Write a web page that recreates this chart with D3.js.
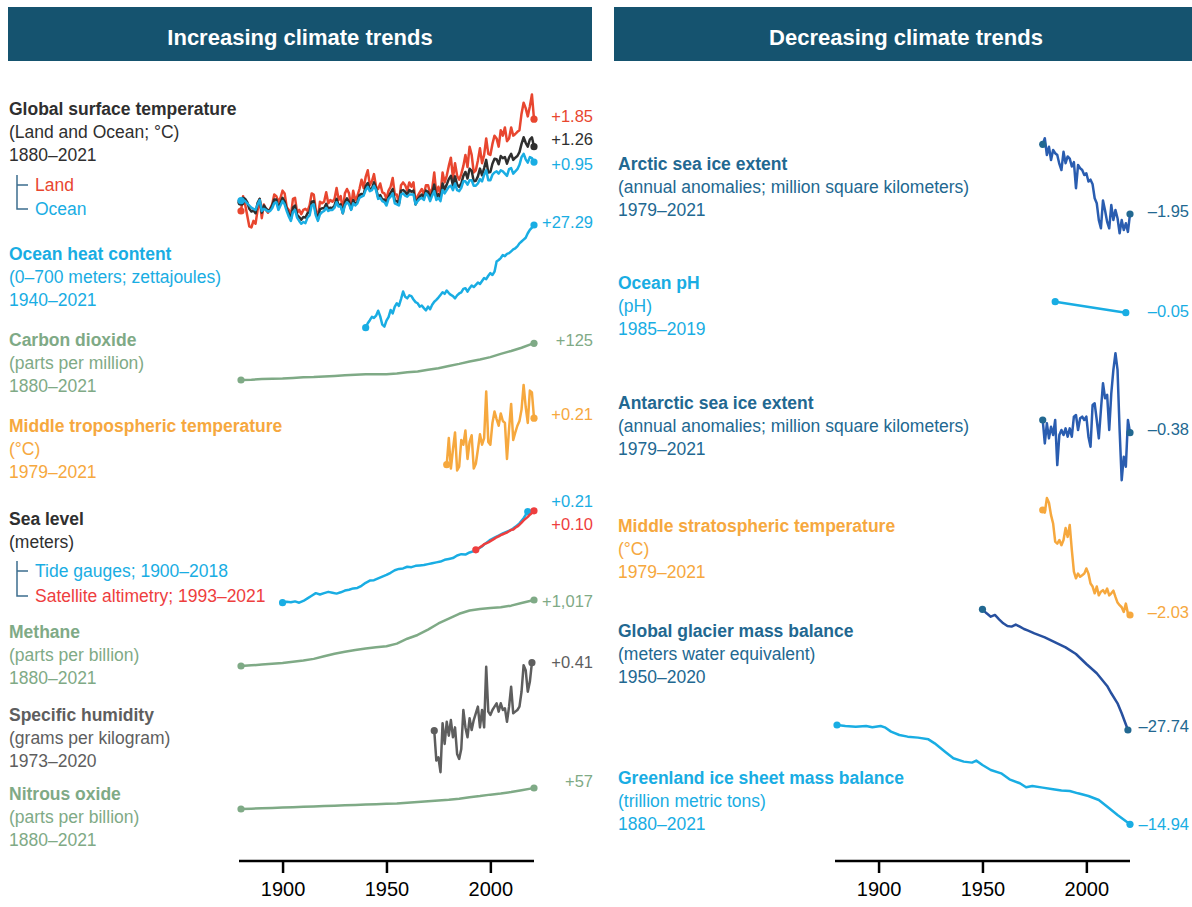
<!DOCTYPE html>
<meta charset="utf-8">
<style>
    body { margin: 0; background: #fff; }
    svg { display: block; font-family: "Liberation Sans", Arial, Helvetica, sans-serif; }
    .header text { fill: #fff; font-weight: bold; font-size: 22px; text-anchor: middle; }
    .label { font-size: 17.5px; }
    .label .head { font-weight: bold; }
    .value { font-size: 16.5px; }
    .series { fill: none; stroke-width: 2.5px; stroke-linejoin: round; stroke-linecap: round; }
    .bracket { fill: none; stroke: #3c6e8f; stroke-width: 1.5px; }
    .axis path, .axis line { stroke: #000; stroke-width: 2.5px; }
    .axis text { font-size: 20px; fill: #000; font-family: "Liberation Sans", Arial, sans-serif; }
</style>
<svg width="1192" height="907"></svg>
<script src="https://cdn.jsdelivr.net/npm/d3@7"></script>
<script>

    // ---- data ----
    const tempYears = d3.range(1880, 2022);
    const globalTemp = [
        -0.16,-0.08,-0.10,-0.16,-0.28,-0.33,-0.31,-0.36,-0.17,-0.10,
        -0.35,-0.22,-0.27,-0.31,-0.30,-0.22,-0.11,-0.11,-0.26,-0.17,
        -0.08,-0.15,-0.28,-0.37,-0.47,-0.26,-0.22,-0.39,-0.43,-0.48,
        -0.43,-0.44,-0.36,-0.34,-0.15,-0.14,-0.36,-0.46,-0.29,-0.27,
        -0.27,-0.19,-0.28,-0.26,-0.27,-0.22,-0.10,-0.22,-0.20,-0.36,
        -0.16,-0.09,-0.16,-0.29,-0.12,-0.20,-0.15,-0.03,-0.01,-0.02,
        0.13,0.19,0.07,0.09,0.20,0.09,-0.07,-0.03,-0.11,-0.11,
        -0.17,-0.07,0.01,0.08,-0.13,-0.14,-0.19,0.05,0.06,0.03,
        -0.03,0.06,0.03,0.05,-0.20,-0.11,-0.06,-0.02,-0.08,0.05,
        0.03,-0.08,0.01,0.16,-0.07,-0.01,-0.10,0.18,0.07,0.16,
        0.26,0.32,0.14,0.31,0.16,0.12,0.18,0.32,0.39,0.27,
        0.45,0.41,0.22,0.23,0.31,0.45,0.33,0.46,0.61,0.38,
        0.39,0.54,0.63,0.62,0.53,0.68,0.64,0.66,0.54,0.65,
        0.72,0.61,0.65,0.68,0.75,0.90,1.02,0.92,0.85,0.98,
        1.02,0.85
    ];
    const landTemp = [
        -0.32,-0.05,-0.20,-0.40,-0.60,-0.62,-0.50,-0.55,-0.30,-0.10,
        -0.45,-0.20,-0.30,-0.35,-0.28,-0.20,-0.02,-0.05,-0.15,-0.08,
        0.05,0.00,-0.25,-0.30,-0.42,-0.10,-0.08,-0.35,-0.30,-0.38,
        -0.30,-0.28,-0.32,-0.22,0.00,-0.02,-0.30,-0.45,-0.15,-0.18,
        -0.15,0.02,-0.18,-0.12,-0.15,-0.10,0.10,-0.12,-0.05,-0.32,
        0.00,0.08,0.00,-0.25,0.05,-0.12,-0.05,0.08,0.25,0.10,
        0.30,0.42,0.15,0.22,0.35,0.12,0.08,0.18,0.02,0.00,
        -0.10,0.05,0.12,0.28,-0.02,-0.02,-0.18,0.15,0.20,0.15,
        0.05,0.20,0.12,0.20,-0.18,-0.05,0.02,0.08,-0.02,0.15,
        0.15,0.00,0.08,0.38,0.00,0.12,-0.02,0.38,0.20,0.32,
        0.50,0.65,0.28,0.55,0.32,0.25,0.35,0.50,0.70,0.48,
        0.85,0.70,0.38,0.42,0.60,0.82,0.55,0.70,1.00,0.72,
        0.70,0.90,1.05,1.00,0.85,1.15,1.05,1.20,0.95,1.00,
        1.20,1.05,1.08,1.12,1.15,1.45,1.65,1.55,1.40,1.58,
        1.80,1.35
    ];
    const oceanTemp = [
        -0.13,-0.12,-0.14,-0.18,-0.22,-0.26,-0.28,-0.30,-0.20,-0.12,
        -0.32,-0.28,-0.30,-0.33,-0.32,-0.27,-0.18,-0.16,-0.30,-0.22,
        -0.14,-0.20,-0.32,-0.42,-0.50,-0.34,-0.30,-0.44,-0.50,-0.55,
        -0.52,-0.54,-0.44,-0.40,-0.22,-0.20,-0.40,-0.50,-0.38,-0.34,
        -0.32,-0.26,-0.32,-0.30,-0.30,-0.26,-0.16,-0.24,-0.24,-0.36,
        -0.22,-0.16,-0.20,-0.30,-0.18,-0.22,-0.18,-0.08,-0.06,-0.04,
        0.06,0.12,0.04,0.06,0.14,0.06,-0.10,-0.08,-0.14,-0.16,
        -0.22,-0.10,-0.06,0.00,-0.18,-0.20,-0.22,-0.02,0.00,-0.04,
        -0.06,-0.02,-0.02,-0.02,-0.20,-0.14,-0.10,-0.08,-0.12,0.00,
        -0.04,-0.14,-0.04,0.04,-0.12,-0.08,-0.14,0.06,0.00,0.06,
        0.12,0.14,0.06,0.18,0.06,0.04,0.10,0.22,0.22,0.16,
        0.24,0.24,0.14,0.14,0.18,0.26,0.22,0.34,0.42,0.24,
        0.24,0.34,0.38,0.40,0.36,0.42,0.40,0.36,0.32,0.44,
        0.46,0.36,0.40,0.44,0.52,0.66,0.72,0.62,0.56,0.66,
        0.64,0.57
    ];

    const ohcYears = d3.range(1940, 2022);
    const ohcValues = [
        0.0,1.2,2.0,2.9,2.6,3.2,4.5,3.0,0.8,0.3,
        1.9,2.8,4.7,3.8,5.6,6.5,5.8,7.6,9.6,8.2,
        7.8,8.6,8.4,7.5,6.8,6.5,5.6,5.9,5.2,4.6,
        5.6,4.9,6.1,6.9,7.4,8.0,8.7,9.4,9.0,9.9,
        9.2,8.7,8.4,7.8,8.6,9.1,9.4,10.3,10.5,9.6,
        10.5,11.2,10.8,11.4,12.0,11.6,12.4,13.2,12.9,13.8,
        14.5,14.0,14.9,17.6,18.0,18.5,19.3,19.0,19.6,19.8,
        20.3,20.8,21.1,21.6,22.4,22.9,23.4,23.9,25.1,26.0,
        26.6,27.29
    ];

    const ghgYears = [1880,1885,1890,1895,1900,1905,1910,1915,1920,1925,1930,1935,1940,1945,1950,
        1955,1960,1965,1970,1975,1980,1985,1990,1995,2000,2005,2010,2015,2020,2021];
    const co2Values = [291,292,294,295,296,298,300,301,303,305,307,309,311,311,311,
        313,317,320,326,331,339,346,354,361,369,380,390,401,414,416];
    const methaneValues = [880,890,902,915,928,945,965,990,1030,1070,1100,1125,1150,1168,1185,
        1225,1300,1358,1440,1535,1610,1685,1735,1760,1775,1785,1810,1850,1890,1897];
    const n2oValues = [277,278,279,280,281,282,283,284,285,286,287,288,289,290,291,
        292,294,296,298,300,302,305,309,312,316,319,323,328,333,334];

    const satYears = d3.range(1979, 2022);
    const tropoTemp = [
        -0.26,0.02,-0.30,-0.10,0.08,-0.32,-0.28,0.00,-0.05,0.10,
        -0.20,-0.02,0.05,-0.30,-0.25,-0.10,0.06,-0.05,0.02,0.51,
        -0.02,-0.05,0.18,0.30,0.22,0.15,0.28,0.20,0.18,-0.20,
        0.12,0.38,0.00,0.08,0.15,0.20,0.32,0.58,0.35,0.18,
        0.52,0.50,0.23
    ];
    const stratoTemp = [
        0.00,-0.05,0.23,0.14,-0.10,-0.26,-0.61,-0.65,-0.58,-0.68,
        -0.58,-0.35,-0.52,-0.29,-0.77,-1.19,-1.32,-1.23,-1.29,-1.26,
        -1.23,-1.13,-1.23,-1.42,-1.48,-1.61,-1.48,-1.65,-1.58,-1.55,
        -1.61,-1.52,-1.65,-1.61,-1.56,-1.68,-1.79,-1.84,-1.88,-1.97,
        -1.81,-2.00,-2.03
    ];
    const arcticIce = [
        0.00,0.17,-0.30,-0.07,-0.44,-0.16,-0.25,-0.30,-0.55,-0.72,
        -0.21,-0.53,-0.34,-0.40,-0.62,-0.50,-1.23,-0.58,-0.67,-0.72,
        -0.86,-0.81,-1.04,-0.99,-1.12,-1.51,-1.65,-2.12,-2.35,-1.57,
        -1.85,-2.17,-2.35,-1.70,-2.12,-1.84,-2.07,-2.49,-2.12,-2.40,
        -2.21,-2.45,-1.95
    ];
    const antarcticIce = [
        0.00,-0.70,-0.10,-0.55,-0.20,-0.45,0.00,-1.35,-0.45,-0.30,
        -0.45,-0.25,-0.50,-0.25,-0.50,0.10,0.15,-0.30,0.05,0.10,
        0.00,0.10,-0.50,-0.80,0.45,0.50,0.00,-0.55,0.30,1.10,
        0.65,0.75,-0.30,0.80,1.50,2.00,1.50,-0.30,-1.80,-1.10,
        -1.40,0.00,-0.38
    ];

    const seaTideYears = d3.range(1900, 2019, 2);
    const seaTide = [
        0.000,0.002,0.001,0.003,0.000,0.004,0.010,0.016,0.022,0.019,
        0.022,0.025,0.023,0.021,0.024,0.028,0.030,0.033,0.034,0.039,
        0.046,0.051,0.052,0.056,0.060,0.064,0.069,0.075,0.078,0.079,
        0.083,0.082,0.085,0.086,0.087,0.089,0.091,0.093,0.095,0.099,
        0.101,0.103,0.109,0.112,0.111,0.116,0.119,0.124,0.130,0.138,
        0.145,0.150,0.155,0.160,0.164,0.168,0.175,0.183,0.195,0.210
    ];
    const seaSatYears = d3.range(1993, 2022);
    const seaSat = [
        0.122,0.125,0.128,0.131,0.135,0.137,0.139,0.142,0.145,0.148,
        0.151,0.153,0.156,0.158,0.160,0.162,0.165,0.168,0.169,0.173,
        0.176,0.180,0.185,0.190,0.194,0.198,0.203,0.207,0.212
    ];

    const humidityYears = d3.range(1973, 2021);
    const humidity = [
        0.00,-0.18,-0.16,-0.25,0.045,-0.08,0.054,-0.03,0.064,-0.04,
        0.02,-0.14,-0.17,-0.11,0.125,0.02,-0.04,0.075,0.004,0.064,
        0.105,0.145,0.02,0.125,0.02,0.385,0.115,0.095,0.125,0.145,
        0.165,0.115,0.165,0.125,0.135,0.054,0.145,0.265,0.105,0.115,
        0.125,0.145,0.235,0.395,0.365,0.235,0.295,0.41
    ];

    const phYears = [1985, 2019];
    const phValues = [8.11, 8.06];

    const glacierYears = [1950,1952,1954,1956,1958,1960,1962,1964,1966,1968,1970,1972,1975,
        1980,1985,1990,1995,2000,2005,2010,2012,2015,2017,2020];
    const glacierValues = [0,-0.92,-1.69,-1.30,-2.30,-3.22,-3.83,-3.98,-3.52,-3.98,-4.52,-4.90,-5.52,
        -6.44,-7.59,-8.74,-10.27,-12.57,-14.71,-17.62,-19.30,-21.61,-23.90,-27.74];

    const greenlandYears = [1880,1884,1889,1894,1897,1901,1903,1906,1910,1914,1919,1924,1927,1932,
        1936,1941,1945,1947,1950,1954,1959,1963,1968,1971,1974,1979,1984,1988,1992,1996,
        2001,2006,2011,2015,2021];
    const greenlandValues = [0,-0.15,-0.25,-0.15,-0.35,-0.15,-0.35,-1.00,-1.50,-1.75,-1.90,-2.16,-2.76,-4.01,
        -5.01,-5.51,-5.66,-5.36,-6.02,-6.77,-7.27,-8.17,-8.77,-9.37,-9.17,-9.42,-9.67,-9.87,-9.92,-10.28,
        -10.68,-11.28,-12.53,-13.53,-14.94];

    const axisTicks = [1900, 1950, 2000];

    // ---- colours ----
    const RED = "#e8462f", CYAN = "#19ade3", DARK = "#2f2f2f", GREEN = "#7faa86",
        ORANGE = "#f6a83e", GRAY = "#5e5e5e", BLUE = "#2a5db0", NAVY = "#27509f",
        TEAL = "#226891", HEAD = "#15536f";

    var svg = d3.select("svg");

    // headers
    var header = svg.append("g").attr("class", "header");
    [["Increasing climate trends", 8, 584], ["Decreasing climate trends", 614, 600]].forEach(function(h) {
        header.append("rect").attr("x", h[1]).attr("y", 7).attr("width", h[2]).attr("height", 54)
            .attr("fill", HEAD);
        header.append("text").attr("x", h[1] + 292).attr("y", 45).text(h[0]);
    });

    var xL = d3.scaleLinear().domain([1880, 2021]).range([241, 534]);
    var xR = xL.copy().range([837, 1130]);

    function pairs(years, values) {
        return years.map(function(yr, i) { return [yr, values[i]]; });
    }

    function drawSeries(x, y, data, color, dotColor) {
        var line = d3.line().x(function(d) { return x(d[0]); }).y(function(d) { return y(d[1]); });
        svg.append("path").attr("class", "series").attr("d", line(data)).attr("stroke", color);
        svg.selectAll(null).data([data[0], data[data.length - 1]]).enter()
            .append("circle")
            .attr("cx", function(d) { return x(d[0]); })
            .attr("cy", function(d) { return y(d[1]); })
            .attr("r", 3.6)
            .attr("fill", dotColor || color);
    }

    var panels = [
        { x: xL, domain: [0, 1], range: [193.4, 138.4], series: [
            [pairs(tempYears, landTemp), RED],
            [pairs(tempYears, globalTemp), DARK],
            [pairs(tempYears, oceanTemp), CYAN]] },
        { x: xL, domain: [0, 27.29], range: [327.7, 225], series: [[pairs(ohcYears, ohcValues), CYAN]] },
        { x: xL, domain: [291, 416], range: [380, 343.3], series: [[pairs(ghgYears, co2Values), GREEN]] },
        { x: xL, domain: [0, 1], range: [440, 345], series: [[pairs(satYears, tropoTemp), ORANGE]] },
        { x: xL, domain: [0, 0.21], range: [602.7, 511.7], series: [
            [pairs(seaTideYears, seaTide), CYAN],
            [pairs(seaSatYears, seaSat), "#ee3e3e"]] },
        { x: xL, domain: [880, 1897], range: [666, 600], series: [[pairs(ghgYears, methaneValues), GREEN]] },
        { x: xL, domain: [0, 0.41], range: [730.7, 662.7], series: [[pairs(humidityYears, humidity), GRAY]] },
        { x: xL, domain: [277, 334], range: [809, 788], series: [[pairs(ghgYears, n2oValues), GREEN]] },
        { x: xR, domain: [0, -1.95], range: [144.3, 214], series: [[pairs(satYears, arcticIce), BLUE, TEAL]] },
        { x: xR, domain: [8.11, 8.06], range: [301.7, 312.7], series: [[pairs(phYears, phValues), CYAN]] },
        { x: xR, domain: [0, -0.38], range: [420, 432.7], series: [[pairs(satYears, antarcticIce), BLUE, TEAL]] },
        { x: xR, domain: [0, -2.03], range: [510, 615], series: [[pairs(satYears, stratoTemp), ORANGE]] },
        { x: xR, domain: [0, -27.74], range: [609.3, 730], series: [[pairs(glacierYears, glacierValues), NAVY, TEAL]] },
        { x: xR, domain: [0, -14.94], range: [725, 824.3], series: [[pairs(greenlandYears, greenlandValues), CYAN]] }
    ];

    panels.forEach(function(p) {
        var y = d3.scaleLinear().domain(p.domain).range(p.range);
        p.series.forEach(function(s) { drawSeries(p.x, y, s[0], s[1], s[2]); });
    });

    // text blocks: [x, baseline, colour, lines]
    var blocks = [
        [9, 115, DARK, ["Global surface temperature", "(Land and Ocean; °C)", "1880–2021"]],
        [9, 260, CYAN, ["Ocean heat content", "(0–700 meters; zettajoules)", "1940–2021"]],
        [9, 346, GREEN, ["Carbon dioxide", "(parts per million)", "1880–2021"]],
        [9, 431.5, ORANGE, ["Middle tropospheric temperature", "(°C)", "1979–2021"]],
        [9, 525, DARK, ["Sea level", "(meters)"]],
        [9, 638, GREEN, ["Methane", "(parts per billion)", "1880–2021"]],
        [9, 720.5, GRAY, ["Specific humidity", "(grams per kilogram)", "1973–2020"]],
        [9, 800, GREEN, ["Nitrous oxide", "(parts per billion)", "1880–2021"]],
        [618, 170, TEAL, ["Arctic sea ice extent", "(annual anomalies; million square kilometers)", "1979–2021"]],
        [618, 288.5, CYAN, ["Ocean pH", "(pH)", "1985–2019"]],
        [618, 408.5, TEAL, ["Antarctic sea ice extent", "(annual anomalies; million square kilometers)", "1979–2021"]],
        [618, 532, ORANGE, ["Middle stratospheric temperature", "(°C)", "1979–2021"]],
        [618, 637, TEAL, ["Global glacier mass balance", "(meters water equivalent)", "1950–2020"]],
        [618, 784, CYAN, ["Greenland ice sheet mass balance", "(trillion metric tons)", "1880–2021"]]
    ];

    blocks.forEach(function(b) {
        var t = svg.append("text").attr("class", "label").attr("fill", b[2]);
        b[3].forEach(function(line, i) {
            t.append("tspan").attr("class", i === 0 ? "head" : null)
                .attr("x", b[0]).attr("y", b[1] + i * 23).text(line);
        });
    });

    // legends with brackets: [baseline1, baseline2, [text, colour], [text, colour]]
    var legends = [
        [191, 215, ["Land", RED], ["Ocean", CYAN]],
        [577, 602, ["Tide gauges; 1900–2018", CYAN], ["Satellite altimetry; 1993–2021", "#ee3e3e"]]
    ];
    legends.forEach(function(l) {
        svg.append("path").attr("class", "bracket")
            .attr("d", "M17," + (l[0] - 16) + "V" + (l[1] - 6) + "H28M17," + (l[0] - 6) + "H28");
        [l[2], l[3]].forEach(function(item, i) {
            svg.append("text").attr("class", "label").attr("x", 35).attr("y", i ? l[1] : l[0])
                .attr("fill", item[1]).text(item[0]);
        });
    });

    // end values: [x, baseline, colour, text]
    var values = [
        [593, 121.7, RED, "+1.85"], [593, 145, DARK, "+1.26"], [593, 170, CYAN, "+0.95"],
        [593, 228.3, CYAN, "+27.29"], [593, 346, GREEN, "+125"], [593, 420, ORANGE, "+0.21"],
        [593, 506.7, CYAN, "+0.21"], [593, 530, "#ee3e3e", "+0.10"], [593, 606.7, GREEN, "+1,017"],
        [593, 668.3, GRAY, "+0.41"], [593, 786.7, GREEN, "+57"],
        [1189, 216.7, TEAL, "–1.95"], [1189, 316.7, CYAN, "–0.05"], [1189, 435, TEAL, "–0.38"],
        [1189, 618.3, ORANGE, "–2.03"], [1189, 731.7, TEAL, "–27.74"], [1189, 830, CYAN, "–14.94"]
    ];
    svg.selectAll(".value").data(values).enter().append("text")
        .attr("class", "value")
        .attr("text-anchor", "end")
        .attr("x", function(d) { return d[0]; })
        .attr("y", function(d) { return d[1]; })
        .attr("fill", function(d) { return d[2]; })
        .text(function(d) { return d[3]; });

    // time axes
    [xL, xR].forEach(function(x) {
        svg.append("g").attr("class", "axis")
            .attr("transform", "translate(0,861)")
            .call(d3.axisBottom(x).tickValues(axisTicks).tickFormat(d3.format("d"))
                .tickSize(12).tickSizeOuter(0).tickPadding(9))
            .call(function(g) { g.select(".domain").attr("d", "M" + (x.range()[0] - 2) + ",0H" + x.range()[1]); });
    });

</script>
